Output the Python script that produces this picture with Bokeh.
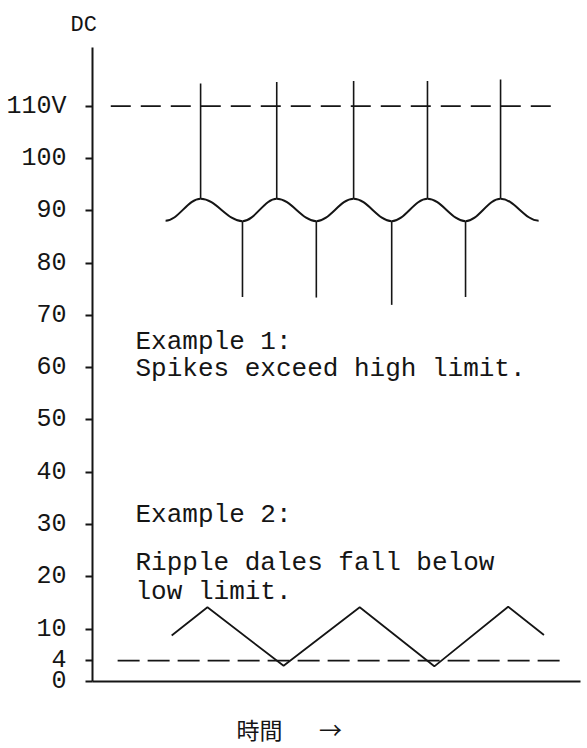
from bokeh.plotting import figure
from bokeh.models import Range1d, FixedTicker, ColumnDataSource
from bokeh.core.properties import value
from bokeh.embed import file_html
from bokeh.resources import INLINE

# ---------------- data ----------------
# vertical axis (DC volts)
y_ticks = [0, 4, 10, 20, 30, 40, 50, 60, 70, 80, 90, 100, 110]
y_tick_labels = ["0", "4", "10", "20", "30", "40", "50", "60", "70", "80", "90", "100", "110V"]
high_limit = 110
low_limit = 4

# Example 1: ripple around 90 V (extrema, time in ripple periods)
ripple_t = [0.96, 1.42, 1.97, 2.42, 2.94, 3.43, 3.93, 4.40, 4.90, 5.36, 5.86]
ripple_v = [88.1, 92.3, 88.0, 92.3, 88.0, 92.3, 88.0, 92.3, 88.0, 92.3, 88.1]
spike_up_top = [114.3, 114.6, 114.8, 114.8, 115.1]
spike_down_bottom = [73.5, 73.4, 72.0, 73.5]

# Example 2: triangular ripple near the low limit
tri_t = [1.04, 1.51, 2.51, 3.51, 4.49, 5.46, 5.93]
tri_v = [8.8, 14.2, 3.0, 14.2, 2.9, 14.3, 8.9]

# extent of the dashed limit lines
high_line_t = [0.24, 6.05]
low_line_t = [0.33, 6.18]

notes = ["Example 1:", "Spikes exceed high limit.", "Example 2:",
         "Ripple dales fall below", "low limit."]
y_title = "DC"
x_title = "時間"
x_arrow = "→"

# ---------------- layout / style ----------------
INK = "#151515"
MONO = "Liberation Mono"
note_x = 0.565
note_y = [64.85, 59.75, 31.76, 22.69, 17.02]
x_title_pos = [2.195, 3.127]   # where the time caption and arrow sit

p = figure(width=587, height=748, output_backend="svg", toolbar_location=None,
           x_range=Range1d(0, 6.41), y_range=Range1d(0, 121.2),
           min_border_left=92, min_border_right=7, min_border_top=47,
           min_border_bottom=60)
p.outline_line_color = None
p.grid.visible = False
p.background_fill_color = "white"
p.border_fill_color = "white"

# "DC" caption above the vertical axis
p.title.text = y_title
p.title.align = "left"
p.title.vertical_align = "top"
p.title.offset = -22
p.title.standoff = 16
p.title.text_font = MONO
p.title.text_font_style = "normal"
p.title.text_font_size = "22px"
p.title.text_color = INK

# y axis
p.yaxis.ticker = FixedTicker(ticks=y_ticks, minor_ticks=[])
p.yaxis.major_label_overrides = {t: l for t, l in zip(y_ticks, y_tick_labels)}
p.yaxis.minor_tick_line_color = None
p.yaxis.major_tick_in = 0
p.yaxis.major_tick_out = 7
p.yaxis.major_tick_line_width = 2
p.yaxis.major_tick_line_color = INK
p.yaxis.major_label_standoff = 19
p.yaxis.major_label_text_font = MONO
p.yaxis.major_label_text_font_size = "25px"
p.yaxis.major_label_text_color = INK
p.yaxis.axis_line_width = 2
p.yaxis.axis_line_color = INK

# x axis: plain line, with the time caption and arrow as its labels
p.xaxis.ticker = FixedTicker(ticks=x_title_pos, minor_ticks=[])
p.xaxis.major_label_overrides = {x_title_pos[0]: x_title, x_title_pos[1]: x_arrow}
p.xaxis.major_tick_line_color = None
p.xaxis.minor_tick_line_color = None
p.xaxis.major_tick_in = 0
p.xaxis.major_tick_out = 0
p.xaxis.major_label_standoff = 30
p.xaxis.major_label_text_font = "Noto Sans CJK JP"
p.xaxis.major_label_text_font_size = "23px"
p.xaxis.major_label_text_color = INK
p.xaxis.axis_line_width = 2
p.xaxis.axis_line_color = INK

# limit lines
p.line(high_line_t, [high_limit] * len(high_line_t), line_color=INK,
       line_width=1.8, line_dash="20 10")
p.line(low_line_t, [low_limit] * len(low_line_t), line_color=INK,
       line_width=1.8, line_dash="22 8")

# ripple drawn as smooth half-waves between extrema
k = 0.364
x0 = ripple_t[:-1]
x1 = ripple_t[1:]
y0 = ripple_v[:-1]
y1 = ripple_v[1:]
src = ColumnDataSource(dict(
    x0=x0, y0=y0, x1=x1, y1=y1,
    cx0=[a + k * (b - a) for a, b in zip(x0, x1)], cy0=y0,
    cx1=[b - k * (b - a) for a, b in zip(x0, x1)], cy1=y1))
p.bezier(x0="x0", y0="y0", x1="x1", y1="y1", cx0="cx0", cy0="cy0",
         cx1="cx1", cy1="cy1", source=src, line_color=INK, line_width=2)

# spikes
up_t = ripple_t[1::2]
up_base = ripple_v[1::2]
dn_t = ripple_t[2:-1:2]
dn_base = ripple_v[2:-1:2]
p.segment(x0=up_t, y0=up_base, x1=up_t, y1=spike_up_top,
          line_color=INK, line_width=1.6)
p.segment(x0=dn_t, y0=dn_base, x1=dn_t, y1=spike_down_bottom,
          line_color=INK, line_width=1.6)

# example 2 triangle ripple
p.line(tri_t, tri_v, line_color=INK, line_width=1.8)

# notes
p.text(x=[note_x] * len(notes), y=note_y, text=notes,
       text_font=value(MONO), text_font_size="26px", text_color=INK,
       text_baseline="alphabetic", text_align="left")

open("out.html", "w").write(file_html(p, INLINE))
